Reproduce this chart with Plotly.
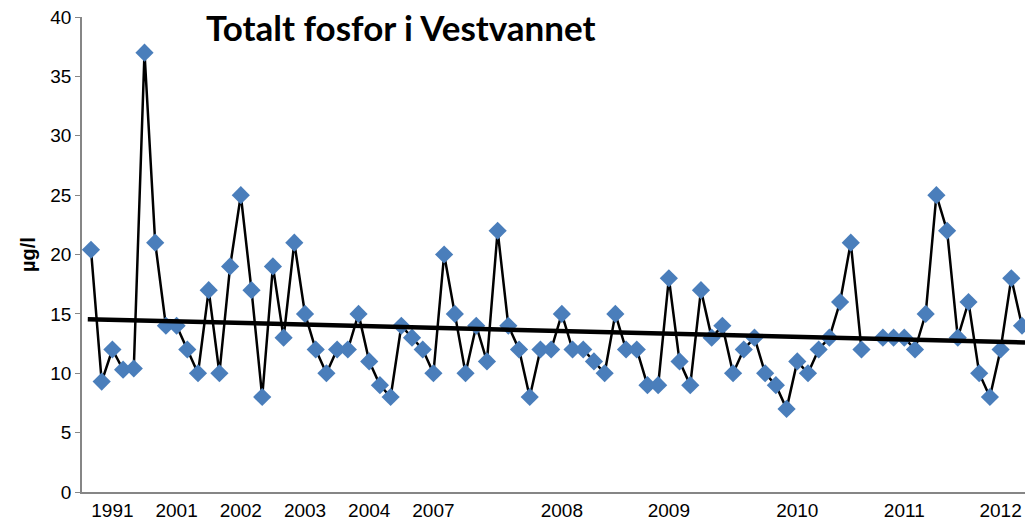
import numpy as np
import plotly.graph_objects as go

# Sample values (µg/l), one per sampling occasion; None = missing
values = [20.4, 9.3, 12, 10.3, 10.4, 37, 21, 14, 14, 12,
          10, 17, 10, 19, 25, 17, 8, 19, 13, 21,
          15, 12, 10, 12, 12, 15, 11, 9, 8, 14,
          13, 12, 10, 20, 15, 10, 14, 11, 22, 14,
          12, 8, 12, 12, 15, 12, 12, 11, 10, 15,
          12, 12, 9, 9, 18, 11, 9, 17, 13, 14,
          10, 12, 13, 10, 9, 7, 11, 10, 12, 13,
          16, 21, 12, None, 13, 13, 13, 12, 15, 25,
          22, 13, 16, 10, 8, 12, 18, 14]

tick_positions = [2, 8, 14, 20, 26, 32, 44, 54, 66, 76, 85]
tick_labels = ["1991", "2001", "2002", "2003", "2004", "2007",
               "2008", "2009", "2010", "2011", "2012"]

idx = list(range(len(values)))

# linear trend line from the data
xs = np.array([i for i, v in zip(idx, values) if v is not None], dtype=float)
ys = np.array([v for v in values if v is not None], dtype=float)
slope, intercept = np.polyfit(xs, ys, 1)
x_lo, x_hi = -0.84, 87.28
trend_x = [-0.3, x_hi]
trend_y = [intercept + slope * t for t in trend_x]

fig = go.Figure()
fig.add_trace(go.Scatter(
    x=idx, y=values, mode="lines+markers",
    line=dict(color="black", width=2.5),
    marker=dict(symbol="diamond", size=14, color="#4A7EBB",
                line=dict(width=0)),
    connectgaps=False, cliponaxis=False, showlegend=False))
fig.add_trace(go.Scatter(
    x=trend_x, y=trend_y, mode="lines",
    line=dict(color="black", width=4.5),
    cliponaxis=False, showlegend=False))

fig.update_layout(
    width=1025, height=522,
    margin=dict(l=82, r=0, t=17, b=30),
    paper_bgcolor="white", plot_bgcolor="white",
    font=dict(family="Liberation Sans, Arial", size=19, color="black"),
    xaxis=dict(range=[x_lo, x_hi], showgrid=False, zeroline=False,
               tickmode="array", tickvals=tick_positions, ticktext=tick_labels,
               ticks="", showline=True, linecolor="#868686", linewidth=1.5,
               tickfont=dict(size=19)),
    yaxis=dict(range=[0, 40], dtick=5, showgrid=False, zeroline=False,
               ticks="outside", ticklen=5, tickcolor="#868686",
               showline=True, linecolor="#868686", linewidth=1.5,
               tickfont=dict(size=19)),
    annotations=[
        dict(text="<b>Totalt fosfor i Vestvannet</b>", x=401, y=27,
             xref="paper", yref="paper", showarrow=False,
             font=dict(family="Lato", size=35, color="black"),
             xanchor="center", yanchor="middle"),
        dict(text="<b>µg/l</b>", x=28, y=255, textangle=-90,
             showarrow=False, font=dict(size=20, color="black"),
             xanchor="center", yanchor="middle"),
    ],
)

# convert pixel positions of annotations to paper coords
pw = 1025 - 82 - 0
ph = 522 - 17 - 30
for a in fig.layout.annotations:
    px, py = a.x, a.y
    a.x = (px - 82) / pw
    a.y = 1 - (py - 17) / ph
    a.xref = "paper"
    a.yref = "paper"

fig.write_html("out.html", config={"displayModeBar": False},
               post_script="document.body.style.margin='0';document.body.style.padding='0';")
